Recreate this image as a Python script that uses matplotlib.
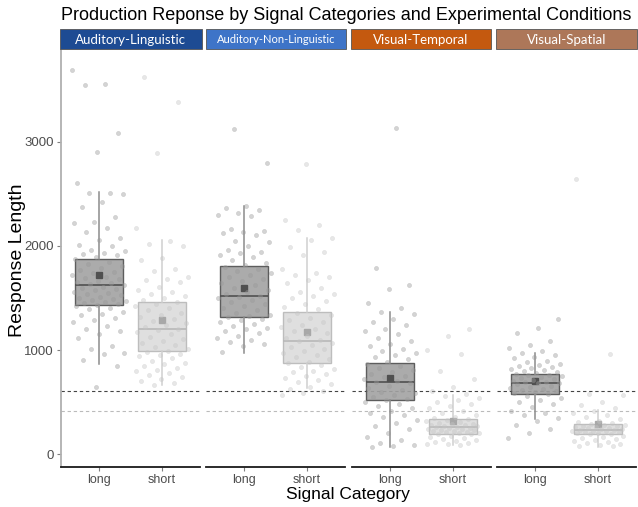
import matplotlib
matplotlib.use("Agg")
import matplotlib.pyplot as plt
from matplotlib.patches import Rectangle
import numpy as np

# ---------------- data ----------------
panels = ["Auditory-Linguistic", "Auditory-Non-Linguistic", "Visual-Temporal", "Visual-Spatial"]
categories = ["long", "short"]

# box statistics per panel: [long, short]
q1 = [[1433, 994], [1318, 873], [518, 195], [582, 192]]
med = [[1622, 1200], [1516, 1090], [691, 262], [687, 236]]
q3 = [[1874, 1459], [1804, 1363], [873, 339], [768, 288]]
whislo = [[866, 665], [975, 636], [67, 89], [336, 73]]
whishi = [[2520, 2057], [2383, 2073], [1363, 569], [972, 425]]
means = [[1721, 1289], [1596, 1177], [735, 320], [700, 291]]

# reference lines
ref_dark = 612
ref_light = 416

AL_long = [3690, 3555, 3540, 3080, 2900, 2600, 2510, 2505, 2500, 2420, 2370, 2280, 2230, 2220, 2170, 2130,
           2080, 2060, 2010, 2000, 1960, 1950, 1935, 1920, 1910, 1890, 1870, 1850, 1830, 1810, 1790, 1770,
           1750, 1740, 1720, 1700, 1690, 1680, 1660, 1650, 1640, 1630, 1620, 1610, 1600, 1590, 1575, 1560,
           1550, 1540, 1525, 1510, 1500, 1490, 1480, 1470, 1460, 1450, 1440, 1430, 1420, 1400, 1390, 1370,
           1350, 1340, 1310, 1290, 1270, 1230, 1200, 1180, 1150, 1120, 1040, 1010, 975, 960, 905, 845, 650]
AL_short = [3620, 3380, 2890, 2170, 2050, 2020, 2000, 1880, 1860, 1780, 1760, 1700, 1680, 1670, 1650, 1610,
            1580, 1560, 1540, 1520, 1500, 1480, 1460, 1440, 1420, 1400, 1380, 1360, 1340, 1320, 1300, 1280,
            1260, 1240, 1220, 1200, 1190, 1170, 1150, 1130, 1110, 1090, 1070, 1050, 1030, 1010, 995, 980,
            960, 950, 940, 920, 900, 880, 870, 850, 830, 810, 800, 780, 760, 740, 720, 700, 680, 665]
AN_long = [3120, 2800, 2380, 2360, 2340, 2320, 2300, 2290, 2160, 2140, 2130, 2120, 2100, 2050, 2040, 2000,
           1960, 1940, 1930, 1910, 1890, 1860, 1840, 1820, 1800, 1780, 1760, 1740, 1720, 1700, 1680, 1660,
           1640, 1620, 1600, 1580, 1560, 1540, 1520, 1510, 1500, 1480, 1460, 1440, 1420, 1400, 1380, 1360,
           1340, 1330, 1320, 1300, 1290, 1270, 1250, 1230, 1210, 1200, 1180, 1160, 1140, 1120, 1100, 1080,
           1060, 1040, 980]
AN_short = [2790, 2250, 2200, 2150, 2080, 2060, 1990, 1940, 1910, 1780, 1740, 1720, 1700, 1670, 1640, 1600,
            1560, 1540, 1520, 1500, 1470, 1440, 1410, 1390, 1360, 1340, 1310, 1290, 1270, 1240, 1220, 1200,
            1180, 1160, 1140, 1120, 1100, 1090, 1070, 1050, 1030, 1010, 990, 970, 950, 930, 910, 890, 875,
            860, 840, 820, 800, 790, 770, 750, 730, 710, 690, 670, 650, 630, 610, 590, 570]
VT_long = [3130, 1790, 1625, 1585, 1450, 1400, 1370, 1350, 1300, 1270, 1240, 1200, 1180, 1150, 1120, 1090,
           1060, 1040, 1010, 990, 970, 950, 930, 910, 890, 870, 850, 830, 810, 790, 770, 750, 740, 720, 700,
           690, 680, 660, 640, 620, 600, 590, 570, 550, 530, 520, 500, 480, 460, 440, 420, 400, 380, 360,
           330, 300, 270, 240, 200, 170, 140, 110, 90, 75, 70]
VT_short = [1200, 1140, 1000, 960, 800, 720, 650, 610, 580, 560, 540, 520, 500, 480, 460, 440, 420, 400, 380,
            360, 350, 340, 330, 320, 310, 300, 295, 290, 285, 280, 275, 270, 265, 260, 255, 250, 245, 240,
            235, 230, 225, 220, 215, 210, 205, 200, 195, 190, 180, 170, 160, 150, 140, 130, 120, 110, 100,
            95, 90]
VS_long = [1295, 1210, 1165, 1090, 1050, 1020, 990, 970, 950, 930, 920, 900, 890, 870, 860, 850, 840, 830,
           820, 810, 800, 790, 780, 770, 765, 760, 750, 740, 730, 720, 710, 700, 695, 690, 685, 680, 670,
           660, 650, 640, 630, 620, 610, 600, 590, 580, 560, 540, 520, 500, 480, 450, 420, 400, 380, 350,
           320, 280, 240, 200, 160]
VS_short = [2640, 960, 580, 565, 500, 470, 440, 420, 400, 380, 360, 340, 320, 310, 300, 290, 285, 280, 275,
            270, 265, 260, 255, 250, 245, 240, 236, 232, 228, 224, 220, 215, 210, 205, 200, 195, 190, 180,
            170, 160, 150, 140, 130, 120, 110, 100, 90, 80, 75]

points = [[AL_long, AL_short], [AN_long, AN_short], [VT_long, VT_short], [VS_long, VS_short]]

y_ticks = [0, 1000, 2000, 3000]

# ---------------- style ----------------
strip_colors = ["#1d4b93", "#3e74c8", "#c4590f", "#ad7759"]
strip_fs = [9.5, 8.0, 9.5, 9.5]
box_face = ["#a2a2a2", "#dcdcdc"]
box_edge = ["#505050", "#b8b8b8"]
whisk_col = ["#8c8c8c", "#d0d0d0"]
pt_col = ["#9a9a9a", "#c6c6c6"]
mean_col = ["#505050", "#a8a8a8"]

W, H = 638, 507
fig = plt.figure(figsize=(W / 100, H / 100), dpi=100)
fig.patch.set_facecolor("white")

panel_lefts = [61, 206, 352, 497]
panel_w = 139
top_px, bot_px = 50, 467
strip_x = [(60, 201.5), (205.5, 346), (351, 491), (496, 636.5)]

def fx(px):
    return px / W

def fy(py):
    return 1 - py / H

font_main = "Liberation Sans"
ylim = (-122, 3880)

for p in range(4):
    ax = fig.add_axes([fx(panel_lefts[p]), fy(bot_px), panel_w / W, (bot_px - top_px) / H])
    ax.set_xlim(0.4, 2.6)
    ax.set_ylim(*ylim)
    ax.set_facecolor("none")
    for s in ["top", "right"]:
        ax.spines[s].set_visible(False)
    ax.spines["bottom"].set_color("#1a1a1a")
    ax.spines["bottom"].set_linewidth(1.3)
    if p == 0:
        ax.spines["left"].set_color("#b0b0b0")
        ax.spines["left"].set_linewidth(1.3)
        ax.set_yticks(y_ticks)
        ax.set_yticklabels([str(t) for t in y_ticks], fontsize=9.5, color="#4d4d4d", family=font_main)
        ax.tick_params(axis="y", length=3, color="#7f7f7f", pad=2)
    else:
        ax.spines["left"].set_visible(False)
        ax.set_yticks([])
    ax.set_xticks([1, 2])
    ax.set_xticklabels(categories, fontsize=9, color="#4d4d4d", family=font_main)
    ax.tick_params(axis="x", length=3, color="#7f7f7f", pad=2)

    # reference lines
    ax.axhline(ref_dark, color="#444444", lw=0.8, ls=(0, (3, 2.5)), zorder=1)
    ax.axhline(ref_light, color="#bbbbbb", lw=0.8, ls=(0, (3, 2.5)), zorder=1)

    for c in range(2):
        stats = [dict(med=med[p][c], q1=q1[p][c], q3=q3[p][c], whislo=whislo[p][c],
                      whishi=whishi[p][c], mean=means[p][c], fliers=[])]
        ax.bxp(stats, positions=[c + 1], widths=0.75, showfliers=False, showmeans=True,
               showcaps=False, patch_artist=True,
               boxprops=dict(facecolor=box_face[c], edgecolor=box_edge[c], linewidth=1.0, alpha=0.9),
               medianprops=dict(color=box_edge[c], linewidth=1.2),
               whiskerprops=dict(color=whisk_col[c], linewidth=1.1),
               meanprops=dict(marker="s", markerfacecolor=mean_col[c], markeredgecolor=mean_col[c],
                              markersize=5),
               manage_ticks=False, zorder=2)
        vals = np.asarray(points[p][c], dtype=float)
        n = len(vals)
        # deterministic horizontal spread (golden-ratio sequence)
        offs = ((np.arange(n) * 0.6180339887 + 0.31 * p + 0.17 * c) % 1.0 - 0.5) * 0.86
        ax.scatter(c + 1 + offs, vals, s=9, facecolor=pt_col[c], edgecolor=pt_col[c],
                   linewidths=0.4, alpha=0.42, zorder=3)

# strips
for p in range(4):
    x0, x1 = strip_x[p]
    rect = Rectangle((fx(x0), fy(49.5)), (x1 - x0) / W, 20 / H, transform=fig.transFigure,
                     facecolor=strip_colors[p], edgecolor="#555555", linewidth=0.6)
    fig.patches.append(rect)
    fig.text(fx((x0 + x1) / 2), fy(39.5), panels[p], color="white", fontsize=strip_fs[p],
             family="Lato", ha="center", va="center")

fig.text(fx(61), fy(15), "Production Reponse by Signal Categories and Experimental Conditions",
         fontsize=13, family=font_main, ha="left", va="center", color="black")
fig.text(fx(18), fy(260), "Response Length", fontsize=14, family=font_main, rotation=90,
         ha="center", va="center", color="black")
fig.text(fx(348), fy(494), "Signal Category", fontsize=12.5, family=font_main,
         ha="center", va="center", color="black")

fig.savefig("out.png", dpi=100, facecolor="white")
